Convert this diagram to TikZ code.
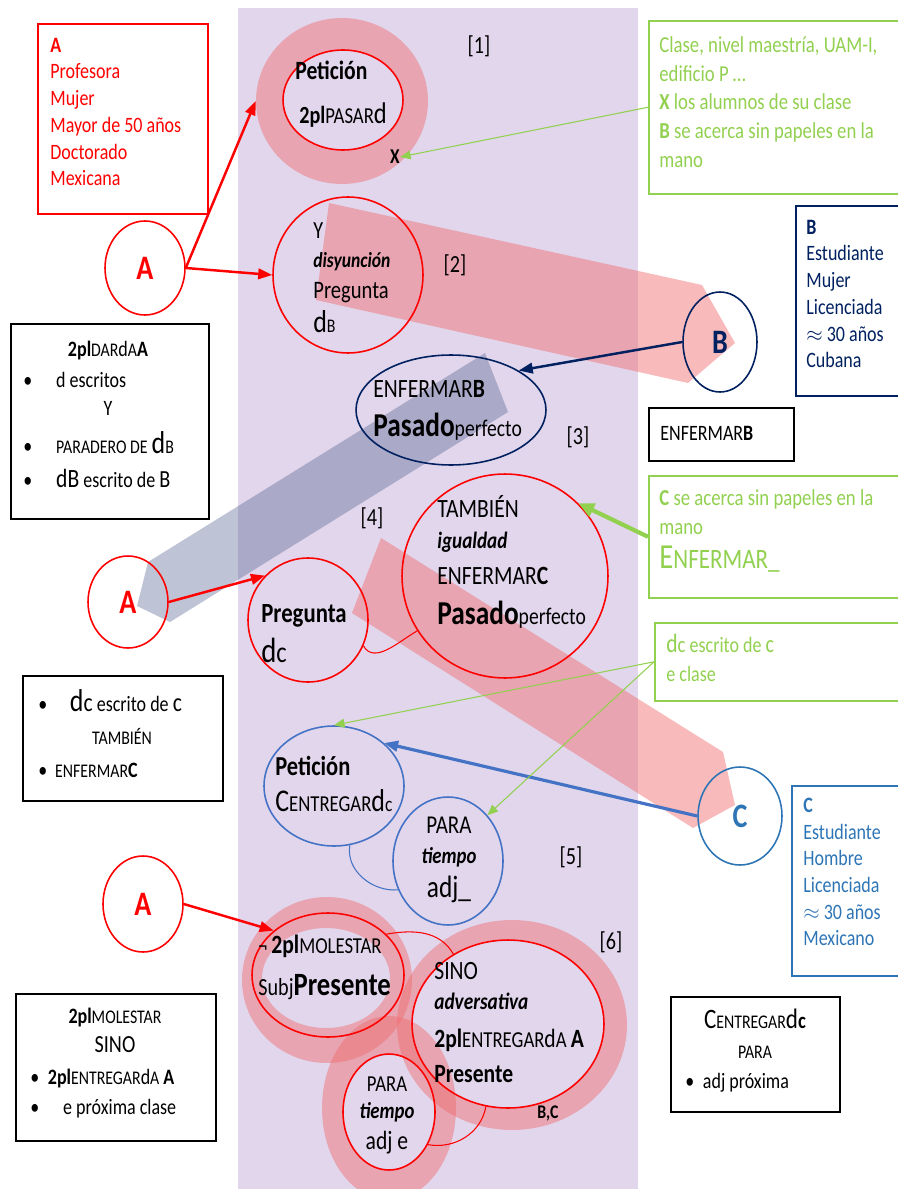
\documentclass[tikz,border=0pt]{standalone}
\usepackage{fontspec}
\setmainfont{Carlito}[FakeStretch=0.82]
\usetikzlibrary{shapes.geometric,arrows.meta}

\definecolor{fondo}{RGB}{225,214,236}
\definecolor{rojo}{RGB}{255,0,0}
\definecolor{verde}{RGB}{146,208,80}
\definecolor{marino}{RGB}{0,32,96}
\definecolor{azulc}{RGB}{46,117,182}
\definecolor{azule}{RGB}{68,114,196}
\definecolor{rosa}{RGB}{240,108,111}
\definecolor{gris}{RGB}{69,86,134}

\newcommand{\fsz}[1]{\fontsize{#1}{#1}\selectfont}
\newcommand{\smc}[1]{{\fsz{11}#1}}
\newcommand{\smcb}[1]{{\fsz{13}#1}}

\tikzset{
  txt/.style={inner sep=0, anchor=base west, font=\fontsize{12.5}{15.2}\selectfont},
  lista/.style={inner sep=0, anchor=west, align=left, font=\fontsize{12.5}{15.2}\selectfont},
  mid/.style={inner sep=0, anchor=base, font=\fontsize{12.5}{15.2}\selectfont},
  tag/.style={inner sep=0, font=\fsz{14}},
  box/.style={draw, line width=1.1pt, anchor=north west, inner sep=0},
  ell/.style={ellipse, draw, line width=0.9pt, inner sep=0},
  ring/.style={fill=rosa, fill opacity=0.47, even odd rule},
  flecha/.style={line width=1.4pt, -{Triangle[length=8pt,width=6pt]}},
  fina/.style={line width=0.6pt, -{Triangle[length=6pt,width=5pt]}},
}

\begin{document}
\begin{tikzpicture}[x=0.02cm, y=-0.02cm]
\useasboundingbox (0,0) rectangle (898,1189);

% fondo
\fill[fondo] (238,8) rectangle (638,1189);

% bandas
\fill[rosa, fill opacity=0.47] (329,203) -- (702,285) -- (735,343) -- (688,383) -- (316,300) -- cycle;
\fill[gris, fill opacity=0.35] (148,562) -- (485,353) -- (508,412) -- (170,622) -- (137,606) -- cycle;
\fill[rosa, fill opacity=0.47] (381,538) -- (723,752) -- (735,805) -- (693,828) -- (352,613) -- cycle;

% anillos
\fill[ring] (342,101) ellipse (1.72cm and 1.66cm) (343,100) ellipse (1.2cm and 1.0cm);
\fill[ring] (327,980) ellipse (1.7cm and 1.66cm) (326,978) ellipse (1.28cm and 1.0cm);
\fill[ring] (512,1025) ellipse (2.3cm and 2.1cm) (508,1024) ellipse (1.92cm and 1.68cm);
\fill[ring] (389,1108) ellipse (1.34cm and 1.84cm) (389,1112) ellipse (0.92cm and 1.16cm);
\node[ellipse, inner sep=0, minimum width=3.44cm, minimum height=3.32cm] (ring1) at (342,101) {};

% cajas de contexto
\node[box, draw=rojo, minimum width=3.4cm, minimum height=3.8cm] (boxa) at (37,23) {};
\node[lista, text=rojo] (infoa) at (50,112) {\textbf{A}\\Profesora\\Mujer\\Mayor de 50 años\\Doctorado\\Mexicana};

\node[box, draw=verde, line width=0.9pt, minimum width=5.14cm, minimum height=3.46cm] (ctx1) at (648,20) {};
\node[lista, text=verde, font=\fontsize{13}{16.4}\selectfont] (infoctx1) at (659,102) {Clase, nivel maestría, UAM-I,\\edificio P …\\\textbf{X} los alumnos de su clase\\\textbf{B} se acerca sin papeles en la\\mano};

\node[box, draw=marino, minimum width=2.2cm, minimum height=3.8cm] (boxb) at (795,205) {};
\node[lista, text=marino] (infob) at (806,294) {\textbf{B}\\Estudiante\\Mujer\\Licenciada\\$\approx$ 30 años\\Cubana};

\node[box, minimum width=2.9cm, minimum height=1.06cm] (boxenf) at (648,407) {};
\node[txt] (infoenf) at (660,440) {ENFERMAR\textbf{B}};

\node[box, draw=verde, line width=0.9pt, minimum width=5.14cm, minimum height=2.44cm] (ctx2) at (648,475) {};
\node[lista, text=verde, font=\fontsize{13}{16.4}\selectfont] (infoctx2) at (659,512) {\textbf{C} se acerca sin papeles en la\\mano};
\node[txt, text=verde] (enfvacio) at (659,568) {{\fsz{20}E}{\fsz{16}NFERMAR\_}};

\node[box, draw=verde, line width=0.9pt, minimum width=5.02cm, minimum height=1.56cm] (ctx3) at (654,622) {};
\node[txt, text=verde] (infoctx3a) at (666,652) {{\fsz{15}d}{\fsz{13}c} escrito de {\fsz{14}c}};
\node[txt, text=verde] (infoctx3b) at (666,681) {e clase};

\node[box, draw=azulc, minimum width=2.28cm, minimum height=3.8cm] (boxc) at (791,785) {};
\node[lista, text=azulc] (infoc) at (803,872) {\textbf{C}\\Estudiante\\Hombre\\Licenciada\\$\approx$ 30 años\\Mexicano};

% cajas de la izquierda
\node[box, minimum width=3.96cm, minimum height=3.9cm] (boxdar) at (10,323) {};
\node[mid] (dar1) at (108,357) {{\bfseries 2pl}\smc{DAR}d\smc{A}\textbf{A}};
\node[txt] (dar2) at (23,387) {\makebox[18.7pt][l]{\textbullet}d escritos};
\node[mid] (dar3) at (108,415) {Y};
\node[txt] (dar4) at (23,453) {\makebox[18.7pt][l]{\textbullet}\smc{PARADERO DE} {\fsz{18}d}\smc{B}};
\node[txt] (dar5) at (23,487) {\makebox[18.7pt][l]{\textbullet}{\fsz{15}dB} escrito de {\fsz{14}B}};

\node[box, minimum width=4.0cm, minimum height=2.5cm] (boxesc) at (22,675) {};
\node[txt] (esc1) at (38,711) {\makebox[18pt][l]{\textbullet}{\fsz{18}d}{\fsz{15}c} escrito de {\fsz{15}c}};
\node[mid] (esc2) at (122,744) {\smc{TAMBIÉN}};
\node[txt] (esc3) at (38,777) {\makebox[9.6pt][l]{\textbullet}\smc{ENFERMAR}\textbf{C}};

\node[box, minimum width=4.0cm, minimum height=2.94cm] (boxmol) at (15,993) {};
\node[mid] (molx1) at (115,1023) {{\bfseries 2pl}\smc{MOLESTAR}};
\node[mid] (molx2) at (115,1052) {\fsz{14}SINO};
\node[txt] (molx3) at (30,1084) {\makebox[10pt][l]{\textbullet}{\bfseries 2pl}\smc{ENTREGAR}d\smc{A} \textbf{A}};
\node[txt] (molx4) at (30,1114) {\makebox[18.7pt][l]{\textbullet}e próxima clase};

\node[box, minimum width=3.38cm, minimum height=2.3cm] (boxcent) at (670,996) {};
\node[mid] (cent1) at (755,1028) {{\fsz{16}C}\smc{ENTREGAR}{\fsz{16}d}{\fsz{13}\bfseries c}};
\node[mid] (cent2) at (755,1058) {\smc{PARA}};
\node[txt] (cent3) at (685,1088) {\makebox[10pt][l]{\textbullet}adj próxima};

% participantes
\node[ell, draw=rojo, text=rojo, font=\fsz{19.5}\bfseries, minimum width=1.6cm, minimum height=1.88cm] (a1) at (145,268) {A};
\node[ell, draw=rojo, text=rojo, font=\fsz{19.5}\bfseries, minimum width=1.6cm, minimum height=1.84cm] (a2) at (128,602) {A};
\node[ell, draw=rojo, text=rojo, font=\fsz{19.5}\bfseries, minimum width=1.6cm, minimum height=1.92cm] (a3) at (143,904) {A};
\node[ell, draw=marino, text=marino, font=\fsz{19.5}\bfseries, minimum width=1.48cm, minimum height=2cm] (bcirc) at (720,342) {B};
\node[ell, draw=azulc, text=azulc, font=\fsz{19.5}\bfseries, minimum width=1.68cm, minimum height=1.96cm] (ccirc) at (740,816) {C};

% actos
\node[ell, draw=rojo, minimum width=2.4cm, minimum height=2cm] (pet1) at (343,100) {};
\node[ell, draw=rojo, minimum width=3.0cm, minimum height=3.12cm] (p2) at (348,275) {};
\node[ell, draw=marino, minimum width=3.8cm, minimum height=2.2cm] (enfb) at (451,410) {};
\node[ell, draw=rojo, minimum width=4.12cm, minimum height=4.08cm] (tamb) at (505,576) {};
\node[ell, draw=rojo, minimum width=2.4cm, minimum height=2.48cm] (preg) at (308,620) {};
\node[ell, draw=azule, minimum width=2.8cm, minimum height=2.4cm] (petc) at (334,786) {};
\node[ell, draw=azule, minimum width=2.2cm, minimum height=2.56cm] (para) at (448,861) {};
\node[ell, draw=rojo, minimum width=3.04cm, minimum height=2.48cm] (mol) at (328,975) {};
\node[ell, draw=rojo, minimum width=3.84cm, minimum height=3.36cm] (sino) at (508,1024) {};
\node[ell, draw=rojo, minimum width=1.84cm, minimum height=2.32cm] (parae) at (389,1112) {};

% textos de los actos
\node[txt, font=\fsz{15}\bfseries] (pet1a) at (295,80) {Petición};
\node[txt] (pet1b) at (299,124) {{\fsz{14}\bfseries 2pl}\smcb{PASAR}{\fsz{17}d}};
\node[inner sep=0, font=\fsz{12}\bfseries] (xm) at (395,157) {X};

\node[txt, font=\fsz{14}] (p2a) at (313,239) {Y};
\node[txt, font=\fsz{12.2}\bfseries\itshape] (p2b) at (313,268) {disyunción};
\node[txt, font=\fsz{14.3}] (p2c) at (313,298) {Pregunta};
\node[txt] (p2d) at (313,333) {{\fsz{18}d}\smc{B}};

\node[txt, font=\fsz{15}] (enfb1) at (373,397) {ENFERMAR\textbf{B}};
\node[txt] (enfb2) at (373,436) {{\fsz{19}\bfseries Pasado}{\fsz{13.6}perfecto}};

\node[txt, font=\fsz{15}] (tamb1) at (437,517) {TAMBIÉN};
\node[txt, font=\fsz{13.3}\bfseries\itshape] (tamb2) at (437,548) {igualdad};
\node[txt, font=\fsz{15}] (tamb3) at (437,584) {ENFERMAR\textbf{C}};
\node[txt] (tamb4) at (437,624) {{\fsz{19}\bfseries Pasado}{\fsz{13.6}perfecto}};

\node[txt, font=\fsz{15.8}\bfseries] (preg1) at (261,622) {Pregunta};
\node[txt] (preg2) at (261,662) {{\fsz{20}d}{\fsz{17}c}};

\node[txt, font=\fsz{15.6}\bfseries] (petc1) at (275,775) {Petición};
\node[txt] (petc2) at (275,811) {{\fsz{18}C}\smcb{ENTREGAR}{\fsz{18}d}{\fsz{12}c}};

\node[mid, font=\fsz{14.6}] (para1) at (449,833) {PARA};
\node[mid, font=\fsz{13}\bfseries\itshape] (para2) at (449,863) {tiempo};
\node[mid, font=\fsz{17.6}] (para3) at (449,897) {adj\_};

\node[txt] (molt1) at (258,953) {¬ {\fsz{15}\bfseries 2pl}\smcb{MOLESTAR}};
\node[txt] (molt2) at (258,995) {{\fsz{14}Subj}{\fsz{18.5}\bfseries Presente}};

\node[txt, font=\fsz{15}] (sino1) at (434,979) {SINO};
\node[txt, font=\fsz{13.4}\bfseries\itshape] (sino2) at (434,1009) {adversativa};
\node[txt] (sino3) at (434,1047) {{\fsz{15}\bfseries 2pl}\smcb{ENTREGAR}{\fsz{15}d}\smcb{A} {\fsz{15}\bfseries A}};
\node[txt, font=\fsz{15}\bfseries] (sino4) at (434,1082) {Presente};
\node[inner sep=0, font=\fsz{11}\bfseries] (bc) at (548,1113) {B,C};

\node[mid, font=\fsz{13}] (parae1) at (387,1091) {PARA};
\node[mid, font=\fsz{13}\bfseries\itshape] (parae2) at (387,1118) {tiempo};
\node[mid, font=\fsz{15}] (parae3) at (387,1149) {adj e};

% etiquetas
\node[tag] (t1) at (479,46) {[1]};
\node[tag] (t2) at (455,265) {[2]};
\node[tag] (t3) at (578,437) {[3]};
\node[tag] (t4) at (372,518) {[4]};
\node[tag] (t5) at (571,857) {[5]};
\node[tag] (t6) at (611,942) {[6]};

% conectores
\draw[flecha, rojo] (a1.east) -- (ring1.west);
\draw[flecha, rojo] (a1.east) -- (p2.west);
\draw[flecha, rojo] (a2.east) -- (preg.north west);
\draw[flecha, rojo] (a3.east) -- (mol.north west);
\draw[flecha, marino] (bcirc.west) -- (enfb.north east);
\draw[flecha, azule, line width=1.8pt] (ccirc.west) -- (petc.north east);
\draw[fina, verde] (ctx1.west) -- (xm.east);
\draw[verde, line width=2.4pt, -{Triangle[length=9pt,width=8pt]}] (ctx2.west) -- (tamb.north east);
\draw[fina, verde] (ctx3.west) -- (petc.north);
\draw[fina, verde] (ctx3.west) -- (para.north east);

\draw[rojo, line width=0.6pt] (preg.-25) to[out=-60, in=210] (tamb.212);
\draw[azule, line width=0.6pt] (petc.-75) to[out=-100, in=185] (para.210);
\draw[rojo, line width=0.6pt] (mol.35) to[out=10, in=120] (sino.128);
\draw[rojo, line width=0.6pt] (sino.-105) to[out=-100, in=-10] (parae.-40);
\end{tikzpicture}
\end{document}
